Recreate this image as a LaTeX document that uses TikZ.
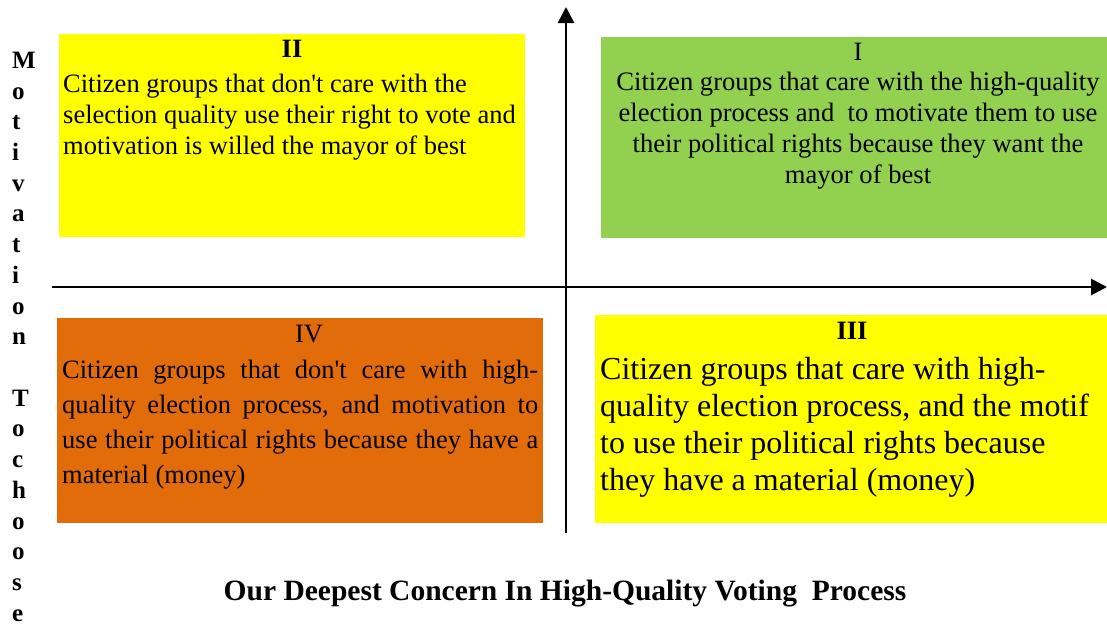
\documentclass[tikz,border=0pt]{standalone}
\usepackage{fontspec}
\setmainfont{Liberation Serif}
\usetikzlibrary{arrows.meta}
\definecolor{qyellow}{HTML}{FFFF00}
\definecolor{qgreen}{HTML}{92D050}
\definecolor{qorange}{HTML}{E36C0A}
\newcommand{\sq}{\textquotesingle}
\tikzset{
  qbox/.style={draw=none, inner sep=0pt, outer sep=0pt},
  axisline/.style={line width=2.8pt, -{Triangle[length=16pt,width=16pt]}},
  bodytxt/.style={inner sep=0pt, font=\fontsize{26.5}{31}\selectfont},
  titletxt/.style={inner sep=0pt, anchor=base, font=\fontsize{26.5}{31}\selectfont},
}
\begin{document}
\begin{tikzpicture}[x=1pt,y=-1pt]
\useasboundingbox (0,0) rectangle (1107,625);
% quadrant boxes
\node[qbox, fill=qyellow, minimum width=466, minimum height=203] (b2) at (292,135.5) {};
\node[qbox, fill=qgreen, minimum width=506, minimum height=201] (b1) at (854,137) {};
\node[qbox, fill=qorange, minimum width=486, minimum height=205] (b4) at (300,420.5) {};
\node[qbox, fill=qyellow, minimum width=512, minimum height=208] (b3) at (851,419) {};
% axes
\coordinate (xs) at (52,287);
\coordinate (xe) at (1107,287);
\coordinate (ys) at (566,533);
\coordinate (ye) at (566,7);
\draw[axisline] (xs) -- (xe);
\draw[axisline] (ys) -- (ye);
% quadrant II (multi-line nodes: base = last line's baseline)
\node[titletxt, font=\fontsize{26.5}{31}\selectfont\bfseries] (t2) at (292,57.7) {II};
\node[bodytxt, anchor=base west, align=left] (x2) at (63,154)
  {Citizen groups that don\sq t care with the\\selection quality use their right to vote and\\motivation is willed the mayor of best};
% quadrant I
\node[titletxt] (t1) at (858,60.7) {I};
\node[bodytxt, anchor=base, align=center, font=\fontsize{26.6}{30.9}\selectfont] (x1) at (858,183.3)
  {Citizen groups that care with the high-quality\\election process and~ to motivate them to use\\their political rights because they want the\\mayor of best};
% quadrant IV
\node[titletxt] (t4) at (309,342.7) {IV};
\node[bodytxt, anchor=base west, align=left, font=\fontsize{26.5}{35}\selectfont] (x4) at (62,483.3)
  {\makebox[476pt][s]{Citizen groups that don\sq t care with high-}\\\makebox[476pt][s]{quality election process, and motivation to}\\\makebox[476pt][s]{use their political rights because they have a}\\material (money)};
% quadrant III
\node[titletxt, font=\fontsize{26.5}{31}\selectfont\bfseries] (t3) at (852,339.3) {III};
\node[bodytxt, anchor=base west, align=left, font=\fontsize{32}{36.9}\selectfont] (x3) at (600,490)
  {Citizen groups that care with high-\\quality election process, and the motif\\to use their political rights because\\they have a material (money)};
% axis labels
\node[inner sep=0pt, anchor=base west, align=left, font=\fontsize{25}{30.72}\selectfont\bfseries] (ylab) at (12,621.3)
  {M\\o\\t\\i\\v\\a\\t\\i\\o\\n\\[30.72pt]T\\o\\c\\h\\o\\o\\s\\e};
\node[inner sep=0pt, anchor=base, font=\fontsize{29.5}{34}\selectfont\bfseries] (xlab) at (565,600)
  {Our Deepest Concern In High-Quality Voting~ Process};
\end{tikzpicture}
\end{document}
